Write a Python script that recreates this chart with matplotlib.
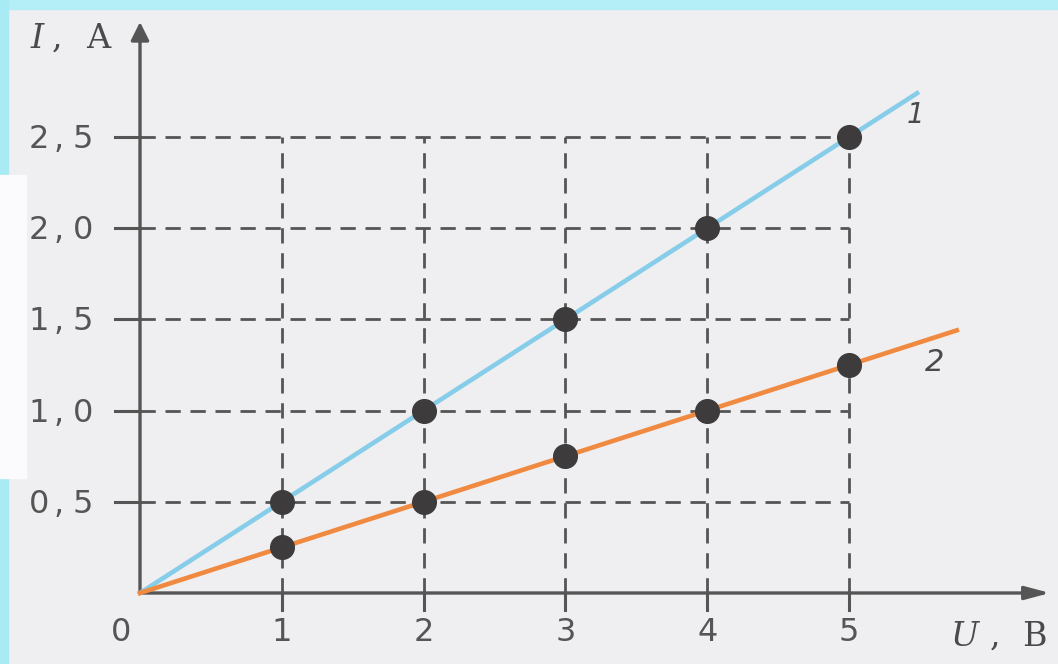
import matplotlib.pyplot as plt
from matplotlib.patches import Rectangle

# data
U = [1, 2, 3, 4, 5]
I1 = [0.5, 1.0, 1.5, 2.0, 2.5]
I2 = [0.25, 0.5, 0.75, 1.0, 1.25]
xticks = [1, 2, 3, 4, 5]
xtick_labels = ['1', '2', '3', '4', '5']
yticks = [0.5, 1.0, 1.5, 2.0, 2.5]
ytick_labels = ['0,5', '1,0', '1,5', '2,0', '2,5']

W, H = 1058, 664
fig = plt.figure(figsize=(W / 100, H / 100), dpi=100)
fig.patch.set_facecolor('#efeef0')

# cyan glow of the slide frame
fig.patches.append(Rectangle((0, 1 - 9 / H), 1, 9 / H, transform=fig.transFigure,
                             color='#b4eef6', zorder=0))
fig.patches.append(Rectangle((0, 0), 8 / W, 1, transform=fig.transFigure,
                             color='#a8ebf4', zorder=0))
fig.patches.append(Rectangle((0, (H - 478) / H), 26 / W, (478 - 175) / H,
                             transform=fig.transFigure, color='#fbfbfd', zorder=0))

ax = fig.add_axes([0, 0, 1, 1])
ax.set_facecolor('none')
ox, oy = 140, 593
sx, sy = 141.8, 182.4
ax.set_xlim(-ox / sx, (W - ox) / sx)
ax.set_ylim((oy - H) / sy, oy / sy)
ax.axis('off')


def px(dx):
    return dx / sx


def py(dy):
    return dy / sy


axc = '#555555'
# dashed grid box
for x in xticks:
    ax.plot([x, x], [0, yticks[-1]], color=axc, lw=2, ls=(0, (5.5, 3.5)), zorder=2)
for y in yticks:
    ax.plot([0, xticks[-1]], [y, y], color=axc, lw=2, ls=(0, (5.5, 3.5)), zorder=2)

# ticks
for x in xticks:
    ax.plot([x, x], [0, -py(17)], color=axc, lw=2.2, zorder=3)
for y in yticks:
    ax.plot([-px(25), 0], [y, y], color=axc, lw=2.2, zorder=3)

# axes with arrows
ax.annotate('', xy=(px(1050 - ox), 0), xytext=(0, 0),
            arrowprops=dict(arrowstyle='-|>,head_length=1.5,head_width=0.4',
                            color=axc, lw=2.4, shrinkA=0, shrinkB=0), zorder=3)
ax.annotate('', xy=(0, py(oy - 22)), xytext=(0, 0),
            arrowprops=dict(arrowstyle='-|>,head_length=1.1,head_width=0.55',
                            color=axc, lw=2.4, shrinkA=0, shrinkB=0), zorder=3)

# lines through origin
end1, end2 = 5.48, 5.76
k1 = I1[-1] / U[-1]
k2 = I2[-1] / U[-1]
ax.plot([0, end1], [0, k1 * end1], color='#86cde9', lw=3.3, zorder=4)
ax.plot([0, end2], [0, k2 * end2], color='#f08a40', lw=3.3, zorder=4)
ax.scatter(U, I1, s=290, color='#3d3b3c', zorder=5)
ax.scatter(U, I2, s=290, color='#3d3b3c', zorder=5)

# tick labels, characters spaced out like the wide textbook font
lab = dict(color='#555555', fontsize=23, family='DejaVu Sans')
for y, t in zip(yticks, ytick_labels):
    base = y - py(11)
    ax.text(-px(101), base, t[0], ha='center', va='baseline', **lab)
    ax.text(-px(81), base, t[1], ha='center', va='baseline', **lab)
    ax.text(-px(57), base, t[2], ha='center', va='baseline', **lab)
for x, t in zip(xticks, xtick_labels):
    ax.text(x, -py(48), t, ha='center', va='baseline', **lab)
ax.text(-px(19), -py(48), '0', ha='center', va='baseline', **lab)

# axis names
nm = dict(color='#4a4a4a', fontsize=24, family='DejaVu Serif', va='baseline')
ax.text(-px(ox - 37), py(oy - 48), 'I', style='italic', ha='center', **nm)
ax.text(-px(ox - 57), py(oy - 48), ',', ha='center', **nm)
ax.text(-px(ox - 98), py(oy - 48), 'A', ha='center', **nm)
ax.text(px(965 - ox), -py(646 - oy), 'U', style='italic', ha='center', **nm)
ax.text(px(995 - ox), -py(646 - oy), ',', ha='center', **nm)
ax.text(px(1034 - ox), -py(646 - oy), 'B', ha='center', **nm)

# line numbers
ax.text(px(915 - ox), py(oy - 115), '1', style='italic', ha='center', va='center',
        color='#4a4a4a', fontsize=20, family='DejaVu Sans')
ax.text(px(935 - ox), py(oy - 362), '2', style='italic', ha='center', va='center',
        color='#4a4a4a', fontsize=22, family='DejaVu Sans')

fig.savefig('out.png', dpi=100, facecolor=fig.get_facecolor())
